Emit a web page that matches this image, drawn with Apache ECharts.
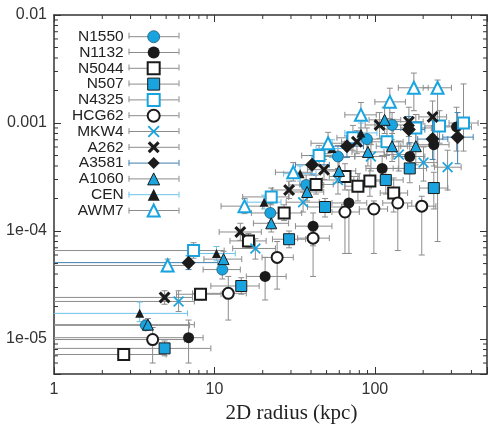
<!DOCTYPE html>
<html>
<head>
<meta charset="utf-8">
<title>IMLR vs 2D radius</title>
<script src="https://cdn.jsdelivr.net/npm/echarts@6/dist/echarts.min.js"></script>
<style>
  html, body { margin: 0; padding: 0; background: #fff; }
  #chart { width: 490px; height: 425px; }
</style>
</head>
<body>
<div id="chart"></div>
<script>
// rows: [radius (kpc), IMLR, radius low, radius high, IMLR low, IMLR high]
const N1550 = [
  [3.73, 1.34e-5, 0.3, 7.0, 1.2e-5, 1.5e-5],
  [11.2, 4.4e-5, 8.5, 14.5, 3.6e-5, 5.2e-5],
  [22.3, 1.47e-4, 17, 29, 1.2e-4, 1.8e-4],
  [37.3, 2.67e-4, 29, 48, 2.1e-4, 3.3e-4],
  [58.9, 4.9e-4, 46, 75, 3.7e-4, 6.2e-4],
  [89.2, 7.1e-4, 70, 114, 5.3e-4, 9.0e-4],
  [128, 9.6e-4, 100, 165, 7.0e-4, 1.25e-3]
];
const N1132 = [
  [6.90, 1.03e-5, 0.3, 8.5, 6.0e-6, 1.5e-5],
  [20.7, 3.8e-5, 15.8, 28, 2.3e-5, 5.7e-5],
  [41.2, 1.11e-4, 32, 54, 7.3e-5, 1.47e-4],
  [68.9, 1.82e-4, 54, 89, 6.2e-5, 2.4e-4],
  [111, 3.8e-4, 88, 140, 2.8e-4, 5.0e-4],
  [165, 4.9e-4, 130, 205, 3.4e-4, 6.6e-4],
  [233, 6.3e-4, 185, 290, 4.0e-4, 8.5e-4],
  [323, 9.2e-4, 260, 400, 5.5e-4, 1.4e-3]
];
const N5044 = [
  [2.72, 7.2e-6, 0.3, 5.0, 6.5e-6, 8.0e-6],
  [8.19, 2.6e-5, 5.8, 11, 2.3e-5, 2.9e-5],
  [16.3, 8.1e-5, 12.5, 21, 7.0e-5, 9.5e-5],
  [27.2, 1.47e-4, 21, 35, 1.25e-4, 1.75e-4],
  [43.0, 2.7e-4, 34, 55, 2.2e-4, 3.3e-4],
  [65.1, 3.2e-4, 52, 80, 2.4e-4, 4.2e-4],
  [78.4, 2.6e-4, 65, 95, 1.9e-4, 3.4e-4],
  [93.1, 2.9e-4, 78, 112, 2.1e-4, 3.8e-4],
  [131, 2.25e-4, 108, 160, 1.5e-4, 3.1e-4]
];
const N507 = [
  [4.89, 8.2e-6, 0.3, 9.5, 7.0e-6, 9.6e-6],
  [14.7, 3.1e-5, 9.5, 19, 2.6e-5, 3.7e-5],
  [29.2, 8.4e-5, 23, 37, 7.0e-5, 1.0e-4],
  [48.9, 1.67e-4, 38, 62, 1.35e-4, 2.0e-4],
  [117, 2.97e-4, 90, 150, 2.2e-4, 3.8e-4],
  [165, 3.8e-4, 130, 210, 2.8e-4, 4.9e-4],
  [233, 2.5e-4, 190, 285, 1.6e-4, 3.5e-4]
];
const N4325 = [
  [7.41, 6.6e-5, 0.3, 11.5, 5.6e-5, 7.8e-5],
  [22.6, 2.07e-4, 15, 29, 1.75e-4, 2.5e-4],
  [44.9, 5.0e-4, 35, 56, 4.0e-4, 6.2e-4],
  [73.0, 7.3e-4, 58, 90, 5.6e-4, 9.5e-4],
  [119, 6.7e-4, 95, 150, 5.0e-4, 8.8e-4],
  [180, 9.0e-4, 145, 225, 6.5e-4, 1.2e-3],
  [253, 9.4e-4, 205, 310, 6.5e-4, 1.3e-3],
  [357, 1.0e-3, 290, 440, 5.5e-4, 2.3e-3]
];
const HCG62 = [
  [4.12, 9.9e-6, 0.3, 6.5, 6.0e-6, 1.28e-5],
  [12.2, 2.65e-5, 7.3, 15.8, 1.5e-5, 3.8e-5],
  [24.6, 5.7e-5, 19.8, 31, 2.9e-5, 8.0e-5],
  [41.2, 8.6e-5, 33, 52, 3.8e-5, 1.0e-4],
  [65.1, 1.5e-4, 54, 80, 6.2e-5, 1.75e-4],
  [98.6, 1.6e-4, 80, 120, 6.2e-5, 1.9e-4],
  [139, 1.82e-4, 112, 170, 6.6e-5, 2.2e-4],
  [196, 1.7e-4, 160, 240, 6.0e-5, 2.1e-4]
];
const MKW4 = [
  [5.98, 2.23e-5, 0.3, 7.5, 1.8e-5, 2.8e-5],
  [18.0, 6.9e-5, 13, 24, 5.5e-5, 8.5e-5],
  [35.7, 1.85e-4, 28, 45, 1.5e-4, 2.3e-4],
  [58.9, 2.97e-4, 47, 74, 2.2e-4, 3.8e-4],
  [94.5, 4.9e-4, 75, 118, 3.6e-4, 6.3e-4],
  [141, 5.1e-4, 115, 172, 3.6e-4, 6.8e-4],
  [201, 4.3e-4, 165, 245, 2.9e-4, 6.0e-4],
  [284, 3.9e-4, 235, 345, 2.4e-4, 5.6e-4]
];
const A262 = [
  [4.89, 2.43e-5, 0.3, 7.3, 2.1e-5, 2.8e-5],
  [14.5, 9.8e-5, 10.7, 19.6, 8.2e-5, 1.18e-4],
  [29.2, 2.4e-4, 23, 37, 2.0e-4, 2.9e-4],
  [48.2, 3.7e-4, 38, 61, 3.0e-4, 4.6e-4],
  [77.3, 6.7e-4, 62, 96, 5.2e-4, 8.5e-4],
  [107, 9.6e-4, 87, 132, 7.2e-4, 1.25e-3],
  [163, 1.03e-3, 133, 200, 7.5e-4, 1.4e-3],
  [229, 1.14e-3, 188, 280, 7.8e-4, 1.6e-3]
];
const A3581 = [
  [6.90, 5.1e-5, 0.3, 10.5, 4.4e-5, 5.9e-5],
  [40.6, 4.1e-4, 32, 52, 3.3e-4, 5.0e-4],
  [67.0, 6.1e-4, 53, 85, 4.8e-4, 7.6e-4],
  [163, 8.7e-4, 130, 205, 6.4e-4, 1.15e-3],
  [229, 7.1e-4, 185, 285, 4.6e-4, 1.05e-3],
  [328, 7.4e-4, 265, 410, 4.2e-4, 1.25e-3]
];
const A1060 = [
  [3.85, 1.36e-5, 0.3, 7.5, 1.2e-5, 1.55e-5],
  [11.4, 5.5e-5, 8.6, 14.8, 4.6e-5, 6.5e-5],
  [22.6, 1.18e-4, 17.5, 29, 9.8e-5, 1.4e-4],
  [37.8, 2.3e-4, 30, 48, 1.9e-4, 2.8e-4],
  [59.8, 3.6e-4, 47, 76, 2.8e-4, 4.5e-4],
  [90.5, 5.4e-4, 72, 114, 4.0e-4, 7.0e-4],
  [115, 1.07e-3, 92, 145, 8.0e-4, 1.4e-3],
  [128, 6.1e-4, 102, 160, 4.4e-4, 8.0e-4],
  [180, 6.1e-4, 145, 225, 4.1e-4, 8.5e-4]
];
const CEN = [
  [3.42, 1.73e-5, 0.3, 6.8, 1.45e-5, 2.2e-5],
  [10.3, 6.2e-5, 8.0, 13.5, 5.3e-5, 7.2e-5],
  [20.4, 1.85e-4, 16, 26, 1.6e-4, 2.15e-4],
  [34.2, 3.4e-4, 27, 43, 2.9e-4, 4.0e-4],
  [54.1, 5.8e-4, 43, 68, 4.8e-4, 7.0e-4],
  [81.9, 8.1e-4, 65, 103, 6.5e-4, 1.0e-3]
];
const AWM7 = [
  [5.11, 4.8e-5, 0.3, 7.0, 4.2e-5, 5.5e-5],
  [15.4, 1.7e-4, 11, 20, 1.45e-4, 2.0e-4],
  [31.0, 3.5e-4, 24, 40, 2.9e-4, 4.3e-4],
  [51.1, 6.5e-4, 40, 65, 5.2e-4, 8.2e-4],
  [81.9, 1.19e-3, 65, 102, 9.0e-4, 1.55e-3],
  [124, 1.57e-3, 100, 155, 1.1e-3, 2.1e-3],
  [175, 2.12e-3, 140, 215, 1.3e-3, 2.9e-3],
  [246, 2.12e-3, 200, 300, 8.0e-5, 2.5e-3]
];

const xTickValues = [1, 10, 100];
const xTickLabels = ['1', '10', '100'];
const yTickValues = [1e-5, 1e-4, 1e-3, 1e-2];
const yTickLabels = ['1e-05', '1e-04', '0.001', '0.01'];
const xMinorTicks = [2, 3, 4, 5, 6, 7, 8, 9, 20, 30, 40, 50, 60, 70, 80, 90, 200, 300, 400];
const yMinorTicks = [6e-6, 7e-6, 8e-6, 9e-6, 2e-5, 3e-5, 4e-5, 5e-5, 6e-5, 7e-5, 8e-5, 9e-5,
  2e-4, 3e-4, 4e-4, 5e-4, 6e-4, 7e-4, 8e-4, 9e-4, 2e-3, 3e-3, 4e-3, 5e-3, 6e-3, 7e-3, 8e-3, 9e-3];

const X_MIN = 1, X_MAX = 500, Y_MIN = 4.75e-6, Y_MAX = 0.01;

const blue = '#19a4df';
const ink = '#1b1b1b';
const errGray = '#8c8c8c';
const xThick = 'path://M0,2.2L2.2,0L6,3.8L9.8,0L12,2.2L8.2,6L12,9.8L9.8,12L6,8.2L2.2,12L0,9.8L3.8,6Z';
const xThin = 'path://M0,1.3L1.3,0L6,4.7L10.7,0L12,1.3L7.3,6L12,10.7L10.7,12L6,7.3L1.3,12L0,10.7L4.7,6Z';
const diamond = 'path://M6,0L12,6L6,12L0,6Z';

const groups = [
  { name: 'N1550', data: N1550, symbol: 'circle', size: 11, item: { color: blue, borderColor: '#205a78', borderWidth: 0.8 }, err: errGray },
  { name: 'N1132', data: N1132, symbol: 'circle', size: 11, item: { color: ink }, err: errGray },
  { name: 'N5044', data: N5044, symbol: 'rect', size: 11, item: { color: '#fff', borderColor: ink, borderWidth: 2 }, err: errGray },
  { name: 'N507', data: N507, symbol: 'rect', size: 11, item: { color: blue, borderColor: ink, borderWidth: 1 }, err: errGray },
  { name: 'N4325', data: N4325, symbol: 'rect', size: 11, item: { color: '#fff', borderColor: blue, borderWidth: 2 }, err: errGray },
  { name: 'HCG62', data: HCG62, symbol: 'circle', size: 11, item: { color: '#fff', borderColor: ink, borderWidth: 2 }, err: errGray },
  { name: 'MKW4', data: MKW4, symbol: xThin, size: 11, item: { color: blue }, err: errGray },
  { name: 'A262', data: A262, symbol: xThick, size: 12, item: { color: ink }, err: errGray },
  { name: 'A3581', data: A3581, symbol: diamond, size: 14, item: { color: ink }, err: '#3f7fae' },
  { name: 'A1060', data: A1060, symbol: 'triangle', size: 11, item: { color: blue, borderColor: ink, borderWidth: 1 }, err: errGray },
  { name: 'CEN', data: CEN, symbol: 'triangle', size: 9, item: { color: ink }, err: '#6cc3ea' },
  { name: 'AWM7', data: AWM7, symbol: 'triangle', size: 12, item: { color: '#fff', borderColor: blue, borderWidth: 2 }, err: errGray }
];

function tickLabel(values, labels) {
  return function (v) {
    const i = values.findIndex(t => Math.abs(Math.log10(v / t)) < 1e-6);
    return i >= 0 ? labels[i] : '';
  };
}

function errorBars(color) {
  return function (params, api) {
    const x = api.value(0), y = api.value(1);
    const c = api.coord([x, y]);
    const l = api.coord([api.value(2), y]);
    const r = api.coord([api.value(3), y]);
    const b = api.coord([x, api.value(4)]);
    const t = api.coord([x, api.value(5)]);
    const cap = 3;
    const style = { stroke: color, lineWidth: 1 };
    const seg = (x1, y1, x2, y2) => ({ type: 'line', shape: { x1, y1, x2, y2 }, style });
    return {
      type: 'group',
      children: [
        seg(l[0], c[1], r[0], c[1]),
        seg(c[0], b[1], c[0], t[1]),
        seg(l[0], c[1] - cap, l[0], c[1] + cap),
        seg(r[0], c[1] - cap, r[0], c[1] + cap),
        seg(c[0] - cap, b[1], c[0] + cap, b[1]),
        seg(c[0] - cap, t[1], c[0] + cap, t[1])
      ]
    };
  };
}

const axisColor = '#333';
const labelFont = { fontFamily: 'Liberation Sans', fontSize: 16, color: '#333' };

function xAxisCfg(pos, showLabel) {
  return {
    type: 'log', logBase: 10, min: X_MIN, max: X_MAX, position: pos,
    axisLine: { show: true, onZero: false, lineStyle: { color: axisColor, width: 1.5 } },
    axisTick: { show: true, inside: true, length: 7, lineStyle: { color: axisColor } },
    axisLabel: Object.assign({ show: showLabel, margin: 8, formatter: tickLabel(xTickValues, xTickLabels) }, labelFont),
    splitLine: { show: false }, minorTick: { show: false }
  };
}
function yAxisCfg(pos, showLabel) {
  return {
    type: 'log', logBase: 10, min: Y_MIN, max: Y_MAX, position: pos,
    axisLine: { show: true, onZero: false, lineStyle: { color: axisColor, width: 1.5 } },
    axisTick: { show: true, inside: true, length: 7, lineStyle: { color: axisColor } },
    axisLabel: Object.assign({ show: showLabel, margin: 7, formatter: tickLabel(yTickValues, yTickLabels) }, labelFont),
    splitLine: { show: false }, minorTick: { show: false }
  };
}

const xAxes = [xAxisCfg('bottom', true), xAxisCfg('top', false)];
Object.assign(xAxes[0], {
  name: '2D radius (kpc)', nameLocation: 'middle', nameGap: 27,
  nameTextStyle: { fontFamily: 'Liberation Serif', fontSize: 21, color: '#222', padding: [0, 0, 0, 42] }
});
const yAxes = [yAxisCfg('left', true), yAxisCfg('right', false)];
Object.assign(yAxes[0], {
  name: 'IMLR', nameLocation: 'middle', nameGap: 38,
  nameTextStyle: { fontFamily: 'Liberation Serif', fontSize: 22, color: '#222', padding: [0, 0, 0, 48] }
});

const series = [];
groups.forEach(g => {
  series.push({
    type: 'custom', name: g.name + ' err', z: 2, clip: true, silent: true,
    renderItem: errorBars(g.err),
    encode: { x: 0, y: 1 },
    data: g.data
  });
});
groups.forEach(g => {
  series.push({
    type: 'line', name: g.name, z: 3,
    symbol: g.symbol, symbolSize: g.size, showSymbol: true,
    lineStyle: { color: g.err, opacity: 0 },
    itemStyle: g.item,
    emphasis: { disabled: true },
    data: g.data.map(d => [d[0], d[1]])
  });
});
// minor ticks on all four sides
series.push({
  type: 'custom', name: 'xminor', silent: true, z: 4,
  renderItem: function (params, api) {
    const cs = params.coordSys;
    const px = api.coord([api.value(0), Y_MIN])[0];
    const style = { stroke: axisColor, lineWidth: 1 };
    return { type: 'group', children: [
      { type: 'line', shape: { x1: px, y1: cs.y + cs.height, x2: px, y2: cs.y + cs.height - 4 }, style },
      { type: 'line', shape: { x1: px, y1: cs.y, x2: px, y2: cs.y + 4 }, style }
    ] };
  },
  data: xMinorTicks.map(v => [v, 1e-3])
});
series.push({
  type: 'custom', name: 'yminor', silent: true, z: 4,
  renderItem: function (params, api) {
    const cs = params.coordSys;
    const py = api.coord([X_MIN, api.value(1)])[1];
    const style = { stroke: axisColor, lineWidth: 1 };
    return { type: 'group', children: [
      { type: 'line', shape: { x1: cs.x, y1: py, x2: cs.x + 4, y2: py }, style },
      { type: 'line', shape: { x1: cs.x + cs.width, y1: py, x2: cs.x + cs.width - 4, y2: py }, style }
    ] };
  },
  data: yMinorTicks.map(v => [10, v])
});

// legend layout: rows start at y 28.7, pitch 15.9; icon line spans x 129..179
const LEG_TOP = 28.7, LEG_PITCH = 15.9, LEG_ICON_X = 129, LEG_ICON_W = 50, LEG_ICON_H = 15;
const legendCaps = [];
groups.forEach((g, i) => {
  const cy = LEG_TOP + 7 + i * LEG_PITCH;
  [LEG_ICON_X, LEG_ICON_X + LEG_ICON_W].forEach(x => {
    legendCaps.push({ type: 'line', silent: true, z: 100,
      shape: { x1: x, y1: cy - 3, x2: x, y2: cy + 3 }, style: { stroke: g.err, lineWidth: 1 } });
  });
});

const chart = echarts.init(document.getElementById('chart'), null, { renderer: 'canvas' });
chart.setOption({
  animation: false,
  backgroundColor: '#fff',
  grid: { left: 54, right: 3, top: 15, bottom: 51, containLabel: false, outerBoundsMode: 'none' },
  xAxis: xAxes,
  yAxis: yAxes,
  legend: {
    orient: 'vertical', left: 72, top: LEG_TOP, align: 'right', padding: 0,
    itemWidth: LEG_ICON_W, itemHeight: LEG_ICON_H, itemGap: -0.2,
    selectedMode: false,
    textStyle: { fontFamily: 'Liberation Sans', fontSize: 15.5, color: '#222' },
    data: groups.map(g => ({
      name: g.name,
      itemStyle: Object.assign({ borderWidth: 0 }, g.item),
      lineStyle: { color: g.err, width: 1, opacity: 1 }
    }))
  },
  graphic: legendCaps,
  series: series
});
</script>
</body>
</html>
